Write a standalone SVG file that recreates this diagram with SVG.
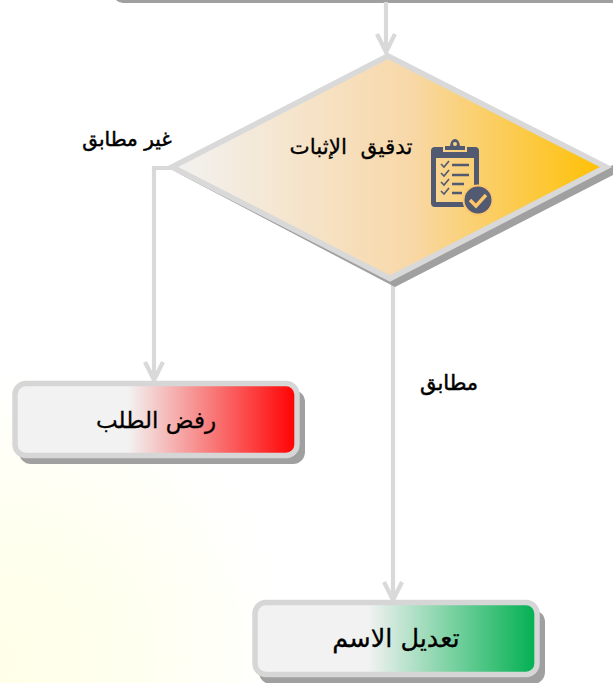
<svg xmlns="http://www.w3.org/2000/svg" width="613" height="683" viewBox="0 0 613 683">
<style>
.t{font-family:"DejaVu Sans","Noto Sans",sans-serif;fill:#000;stroke:#000;stroke-width:.3;text-anchor:middle;direction:rtl;white-space:pre}
.c{fill:none;stroke:#d9d9d9;stroke-width:4.2}
.box{stroke:#d6d6d6;stroke-width:5.4}
.sh{fill:#a0a0a0}
.ic{fill:#515a70}
.ck{fill:none;stroke:#515a70;stroke-width:1.6}
.ln{fill:none;stroke:#515a70;stroke-width:2.4}
</style>
<defs>
<radialGradient id="bg" gradientUnits="userSpaceOnUse" cx="0" cy="660" r="290"><stop offset="0" stop-color="#ffffe8"/><stop offset="0.45" stop-color="#ffffef"/><stop offset="1" stop-color="#ffffff"/></radialGradient>
<linearGradient id="gd" x1="0" x2="1" y1="0" y2="0"><stop offset="0" stop-color="#f2f2f2"/><stop offset="0.55" stop-color="#f8d8a8"/><stop offset="1" stop-color="#ffc000"/></linearGradient>
<linearGradient id="gr" x1="0" x2="1" y1="0" y2="0"><stop offset="0.4" stop-color="#f2f2f2"/><stop offset="1" stop-color="#ff0000"/></linearGradient>
<linearGradient id="gg" x1="0" x2="1" y1="0" y2="0"><stop offset="0.4" stop-color="#f2f2f2"/><stop offset="1" stop-color="#00b050"/></linearGradient>
</defs>
<rect width="613" height="683" fill="#fff"/>
<rect x="0" y="370" width="290" height="313" fill="url(#bg)"/>
<g id="node-top"><rect x="113" y="-40" width="540" height="43" rx="10" class="sh"/></g>
<g id="connectors">
<path class="c" d="M386 2V52M377 34L386 52L395 34"/>
<path class="c" d="M172 168H154V379M145 362L154 380L163 362"/>
<path class="c" d="M393 282V599M384 582L393 600L402 582"/>
</g>
<g id="node-check">
<path class="sh" d="M172 170L395 287L613 175L613 165L390 275Z"/>
<path d="M388 56L606 167L390 278.500L172 167Z" fill="url(#gd)" stroke="#d9d9d9" stroke-width="5.600"/>
<text class="t" x="351" y="154" style="font-size:21.500px">تدقيق  الإثبات</text>
<g id="icon">
<path class="ic" fill-rule="evenodd" d="M435 147H443V152H467V147H475Q479 147 479 151V203Q479 207 475 207H435Q431 207 431 203V151Q431 147 435 147ZM436 158V202H474V158Z"/>
<path class="ic" fill-rule="evenodd" d="M445 146H450Q451 139 455 139Q459 139 460 146H465V150H445ZM453 144A2 2 0 1 0 457 144A2 2 0 1 0 453 144Z"/>
<path class="ck" d="M441 164L444 167L449 161M441 173L444 176L449 170M441 182L444 185L449 179M441 191L444 194L449 188"/>
<path class="ln" d="M452 165H469M452 175H469M452 184H464M452 193H462"/>
<circle cx="478" cy="200" r="15.500" fill="#fdc66a"/>
<circle cx="478" cy="200" r="13.500" class="ic"/>
<path d="M470 200L476 206L486 195" fill="none" stroke="#fdc66a" stroke-width="3.400"/>
</g>
</g>
<g id="node-reject">
<rect x="19" y="390" width="286" height="74" rx="12" class="sh"/>
<rect x="15" y="383.500" width="282" height="72" rx="11" fill="url(#gr)" class="box"/>
<text class="t" x="156" y="428" style="font-size:23px">رفض الطلب</text>
</g>
<g id="node-edit">
<rect x="259" y="610" width="286" height="74" rx="12" class="sh"/>
<rect x="255" y="602.500" width="282" height="72" rx="11" fill="url(#gg)" class="box"/>
<text class="t" x="396" y="647" style="font-size:25.500px">تعديل الاسم</text>
</g>
<g id="labels">
<text class="t" x="127" y="146" style="font-size:20px;stroke-width:.5">غير مطابق</text>
<text class="t" x="449" y="390" style="font-size:21px;stroke-width:.5">مطابق</text>
</g>
</svg>
